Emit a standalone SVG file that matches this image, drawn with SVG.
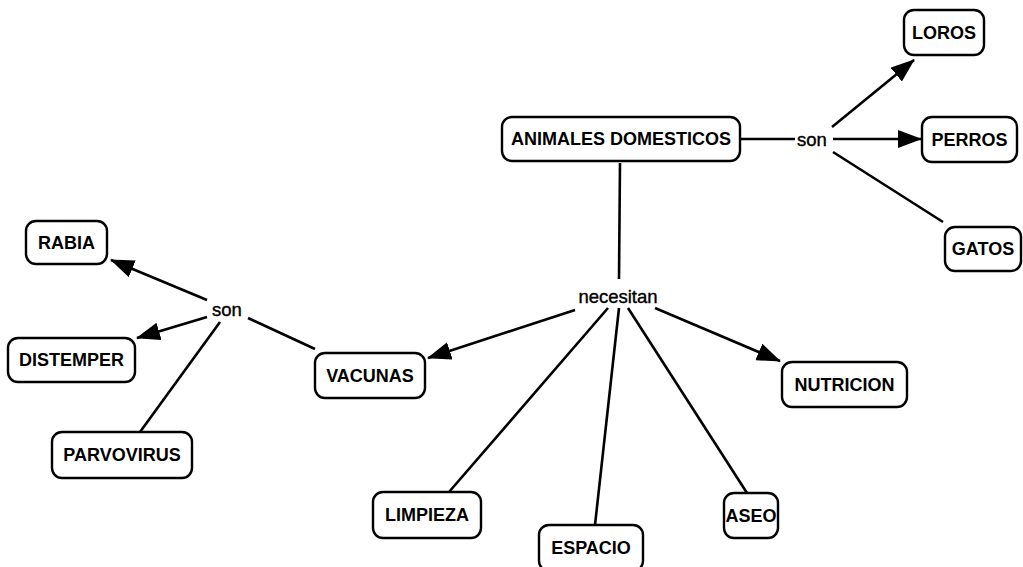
<svg xmlns="http://www.w3.org/2000/svg" width="1023" height="567" viewBox="0 0 1023 567">
<defs>
<style>
.node rect{fill:#fff;stroke:#000;stroke-width:2.4}
.node text{font-family:"Liberation Sans",Arial,sans-serif;font-weight:bold;font-size:18px;fill:#000;text-anchor:middle;dominant-baseline:central}
.lbl{font-family:"Liberation Sans",Arial,sans-serif;font-size:18.5px;fill:#000;text-anchor:middle;dominant-baseline:central;stroke:#000;stroke-width:0.4}
#connectors line{stroke:#000;stroke-width:2.6;fill:none}
.arr{marker-end:url(#ah)}
</style>
<marker id="ah" markerUnits="userSpaceOnUse" markerWidth="24" markerHeight="18" refX="23" refY="9" orient="auto">
<path d="M0,0 L24,9 L0,18 z" fill="#000"/>
</marker>
</defs>
<rect width="1023" height="567" fill="#fff"/>
<g id="connectors">
<line x1="740" y1="139" x2="795" y2="139"/>
<line class="arr" x1="832" y1="127" x2="914" y2="60"/>
<line class="arr" x1="833" y1="139" x2="921" y2="139"/>
<line x1="833" y1="152" x2="943" y2="222"/>
<line x1="620" y1="163" x2="619" y2="279"/>
<line class="arr" x1="575" y1="310" x2="428" y2="358"/>
<line x1="608" y1="308" x2="449" y2="492"/>
<line x1="619" y1="308" x2="595" y2="525"/>
<line x1="628" y1="308" x2="747" y2="493"/>
<line class="arr" x1="655" y1="308" x2="780" y2="361"/>
<line x1="315" y1="349" x2="248" y2="318"/>
<line class="arr" x1="207" y1="300" x2="111" y2="260"/>
<line class="arr" x1="207" y1="317" x2="137" y2="338"/>
<line x1="220" y1="322" x2="140" y2="432"/>
</g>
<g id="lbl-son1"><text class="lbl" x="812" y="139">son</text></g>
<g id="lbl-necesitan"><text class="lbl" x="618" y="296">necesitan</text></g>
<g id="lbl-son2"><text class="lbl" x="227" y="309">son</text></g>
<g id="n-animales" class="node"><rect x="502" y="117" width="238" height="44" rx="10"/><text x="621" y="139">ANIMALES DOMESTICOS</text></g>
<g id="n-loros" class="node"><rect x="904" y="10" width="80" height="45" rx="10"/><text x="944" y="32.5">LOROS</text></g>
<g id="n-perros" class="node"><rect x="922" y="117" width="95" height="45" rx="10"/><text x="969.5" y="139.5">PERROS</text></g>
<g id="n-gatos" class="node"><rect x="945" y="227" width="76" height="44" rx="10"/><text x="983" y="249">GATOS</text></g>
<g id="n-rabia" class="node"><rect x="26" y="221" width="81" height="43" rx="10"/><text x="66.5" y="242.5">RABIA</text></g>
<g id="n-distemper" class="node"><rect x="8" y="338" width="127" height="44" rx="10"/><text x="71.5" y="360">DISTEMPER</text></g>
<g id="n-parvovirus" class="node"><rect x="52" y="432" width="140" height="46" rx="10"/><text x="122" y="455">PARVOVIRUS</text></g>
<g id="n-vacunas" class="node"><rect x="315" y="353" width="110" height="45" rx="10"/><text x="370" y="375.5">VACUNAS</text></g>
<g id="n-nutricion" class="node"><rect x="782" y="362" width="125" height="45" rx="10"/><text x="844.5" y="384.5">NUTRICION</text></g>
<g id="n-limpieza" class="node"><rect x="373" y="492" width="108" height="46" rx="10"/><text x="427" y="515">LIMPIEZA</text></g>
<g id="n-espacio" class="node"><rect x="539" y="525" width="104" height="46" rx="10"/><text x="591" y="548">ESPACIO</text></g>
<g id="n-aseo" class="node"><rect x="724" y="493" width="54" height="45" rx="10"/><text x="751" y="515.5">ASEO</text></g>
</svg>
